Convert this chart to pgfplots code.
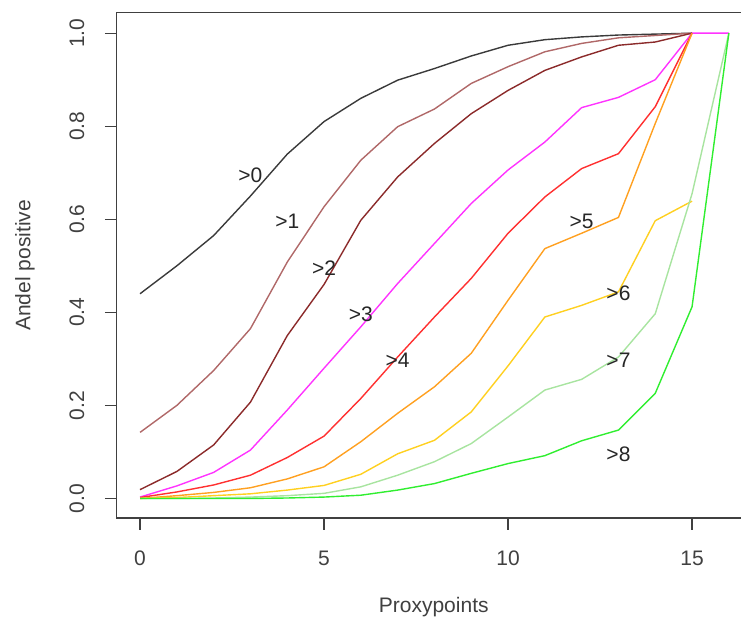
\documentclass[border=0pt]{standalone}
\usepackage{fontspec}
\setmainfont{Liberation Sans}
\usepackage{pgfplots}
\pgfplotsset{compat=1.18}
\newcommand{\rfont}{\fontsize{21}{25}\selectfont}
\definecolor{c0}{HTML}{3A3A3A}
\definecolor{c1}{HTML}{B06868}
\definecolor{c2}{HTML}{8B2A2A}
\definecolor{c3}{HTML}{FF33FF}
\definecolor{c4}{HTML}{FF3030}
\definecolor{c5}{HTML}{FFA020}
\definecolor{c6}{HTML}{FFD020}
\definecolor{c7}{HTML}{A8E4A0}
\definecolor{c8}{HTML}{30EE30}
\definecolor{axc}{HTML}{404040}
\begin{document}
\begin{tikzpicture}
\begin{axis}[
  at={(0pt,0pt)}, anchor=south west,
  scale only axis, width=624.5pt, height=505.3pt,
  xmin=-0.64, xmax=16.33, ymin=-0.042, ymax=1.044,
  axis x line*=box, axis y line*=left,
  axis line style={axc, line width=1.3pt},
  xtick={0,5,10,15}, ytick={0,0.2,0.4,0.6,0.8,1.0},
  xtick pos=bottom, ytick pos=left,
  tick align=outside, major tick length=11.5pt,
  every tick/.style={axc, line width=1.3pt},
  /pgf/number format/assume math mode=true,
  tick label style={font=\rfont, text=axc},
  xticklabel style={anchor=center, yshift=-29pt},
  yticklabel style={xshift=-28pt, rotate=90, anchor=center,
    /pgf/number format/.cd, fixed, fixed zerofill, precision=1},
  every axis x label/.style={at={(axis description cs:0.508,-0.176)}, anchor=center},
  every axis y label/.style={at={(axis description cs:-0.1465,0.5)}, rotate=90, anchor=center},
  label style={font=\rfont, text=axc},
  xlabel={Proxypoints}, ylabel={Andel positive},
  every axis plot/.append style={line width=1.4pt, line join=round},
]
\addplot[c0] coordinates {(0,0.44)(1,0.50)(2,0.565)(3,0.65)(4,0.74)(5,0.81)(6,0.86)(7,0.899)(8,0.924)(9,0.951)(10,0.974)(11,0.986)(12,0.992)(13,0.996)(14,0.998)(15,1)};
\addplot[c1] coordinates {(0,0.142)(1,0.20)(2,0.275)(3,0.365)(4,0.508)(5,0.627)(6,0.727)(7,0.799)(8,0.837)(9,0.892)(10,0.928)(11,0.96)(12,0.978)(13,0.99)(14,0.995)(15,1)};
\addplot[c2] coordinates {(0,0.019)(1,0.058)(2,0.115)(3,0.207)(4,0.35)(5,0.46)(6,0.598)(7,0.691)(8,0.763)(9,0.827)(10,0.877)(11,0.92)(12,0.949)(13,0.974)(14,0.981)(15,1)};
\addplot[c3] coordinates {(0,0.003)(1,0.027)(2,0.056)(3,0.104)(4,0.19)(5,0.28)(6,0.369)(7,0.462)(8,0.548)(9,0.634)(10,0.706)(11,0.766)(12,0.84)(13,0.862)(14,0.9)(15,1)(16,1)};
\addplot[c4] coordinates {(0,0.002)(1,0.014)(2,0.029)(3,0.05)(4,0.088)(5,0.134)(6,0.215)(7,0.304)(8,0.39)(9,0.473)(10,0.57)(11,0.648)(12,0.709)(13,0.741)(14,0.842)(15,1)};
\addplot[c5] coordinates {(0,0)(1,0.006)(2,0.013)(3,0.023)(4,0.042)(5,0.068)(6,0.122)(7,0.183)(8,0.24)(9,0.312)(10,0.426)(11,0.537)(12,0.57)(13,0.604)(14,0.806)(15,1)};
\addplot[c6] coordinates {(0,0)(1,0.002)(2,0.006)(3,0.01)(4,0.018)(5,0.028)(6,0.052)(7,0.096)(8,0.125)(9,0.186)(10,0.285)(11,0.39)(12,0.415)(13,0.444)(14,0.597)(15,0.639)};
\addplot[c7] coordinates {(0,0)(1,0)(2,0.001)(3,0.003)(4,0.006)(5,0.011)(6,0.025)(7,0.05)(8,0.079)(9,0.118)(10,0.175)(11,0.233)(12,0.256)(13,0.304)(14,0.397)(15,0.655)(16,1)};
\addplot[c8] coordinates {(0,0)(1,0)(2,0)(3,0)(4,0.001)(5,0.003)(6,0.007)(7,0.018)(8,0.032)(9,0.054)(10,0.075)(11,0.092)(12,0.124)(13,0.147)(14,0.226)(15,0.412)(16,1)};
\begin{scope}[every node/.style={font=\rfont, text=black!85, inner sep=0pt}]
\node at (axis cs:3,0.695) {>0};
\node at (axis cs:4,0.596) {>1};
\node at (axis cs:5,0.495) {>2};
\node at (axis cs:6,0.396) {>3};
\node at (axis cs:7,0.298) {>4};
\node at (axis cs:12,0.596) {>5};
\node at (axis cs:13,0.441) {>6};
\node at (axis cs:13,0.297) {>7};
\node at (axis cs:13,0.095) {>8};
\end{scope}
\end{axis}
\pgfresetboundingbox
\useasboundingbox (-116.5pt,-107pt) rectangle (624.5pt,518pt);
\end{tikzpicture}
\end{document}
